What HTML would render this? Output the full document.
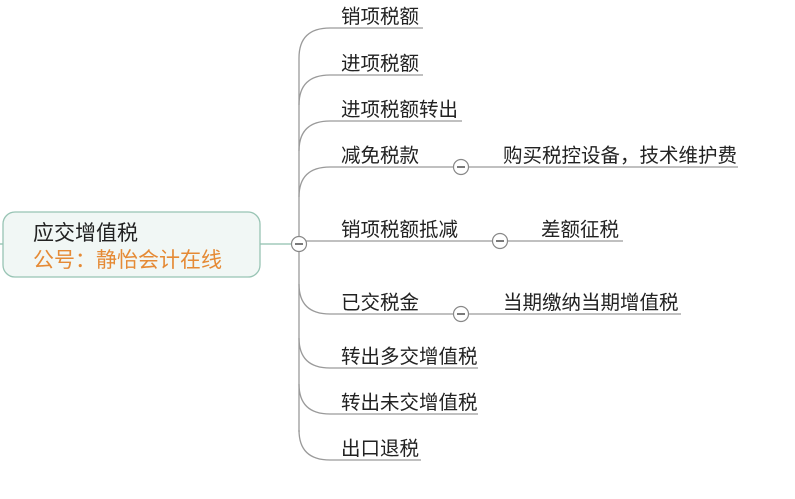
<!DOCTYPE html>
<html><head><meta charset="utf-8"><style>
html,body{margin:0;padding:0;background:#fff;}
svg text{font-family:"Liberation Sans","Noto Sans CJK SC",sans-serif;font-size:19.5px;fill:#222;}
</style></head><body>
<svg width="795" height="494" viewBox="0 0 795 494" xmlns="http://www.w3.org/2000/svg">
<g fill="none" stroke="#9a9a9a" stroke-width="1.3">
<line x1="299" y1="58" x2="299" y2="432"/>
<path d="M299,58 Q299,28 330,28 L423,28"/>
<path d="M299,105 Q299,75 330,75 L423,75"/>
<path d="M299,151 Q299,121 330,121 L462,121"/>
<path d="M299,197 Q299,167 330,167 L455,167"/>
<line x1="467" y1="167" x2="738" y2="167"/>
<line x1="305" y1="241" x2="494" y2="241"/>
<line x1="506" y1="241" x2="623" y2="241"/>
<path d="M299,284 Q299,314 330,314 L455,314"/>
<line x1="467" y1="314" x2="681" y2="314"/>
<path d="M299,338 Q299,368 330,368 L478,368"/>
<path d="M299,384 Q299,414 330,414 L478,414"/>
<path d="M299,430 Q299,460 330,460 L421,460"/>
</g>
<line x1="0" y1="244" x2="4" y2="244" stroke="#8fbfae" stroke-width="1.3"/>
<line x1="260" y1="244" x2="292" y2="244" stroke="#8fbfae" stroke-width="1.3"/>
<rect x="3" y="212" width="257" height="65" rx="12" fill="#f1f7f5" stroke="#98c4b4" stroke-width="1.3"/>
<text x="33" y="240" style="font-size:21px;fill:#222">应交增值税</text>
<text x="33" y="267" style="font-size:21px;fill:#e58a35">公号：静怡会计在线</text>
<g fill="#fff" stroke="#888" stroke-width="1.2">
<circle cx="299" cy="244" r="7.5"/>
<circle cx="461" cy="167" r="7.5"/>
<circle cx="500" cy="241" r="7.5"/>
<circle cx="461" cy="314" r="7.5"/>
</g>
<g stroke="#333" stroke-width="1.3">
<line x1="295" y1="244" x2="303" y2="244"/>
<line x1="457" y1="167" x2="465" y2="167"/>
<line x1="496" y1="241" x2="504" y2="241"/>
<line x1="457" y1="314" x2="465" y2="314"/>
</g>
<text x="341" y="23">销项税额</text>
<text x="341" y="70">进项税额</text>
<text x="341" y="116">进项税额转出</text>
<text x="341" y="162">减免税款</text>
<text x="503" y="162">购买税控设备，技术维护费</text>
<text x="341" y="236">销项税额抵减</text>
<text x="541" y="236">差额征税</text>
<text x="341" y="309">已交税金</text>
<text x="503" y="309">当期缴纳当期增值税</text>
<text x="341" y="363">转出多交增值税</text>
<text x="341" y="409">转出未交增值税</text>
<text x="341" y="455">出口退税</text>
</svg>
</body></html>
